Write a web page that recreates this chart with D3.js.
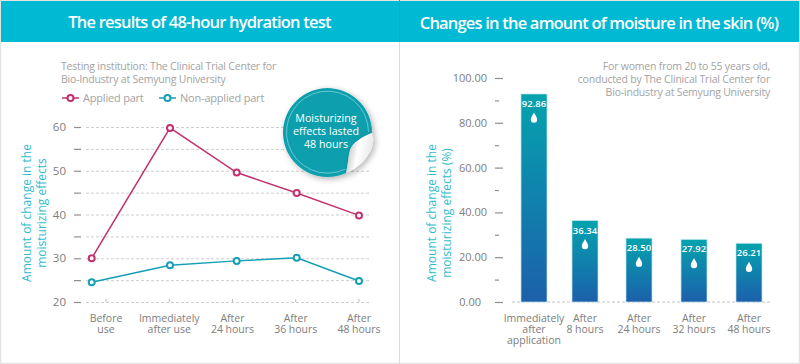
<!DOCTYPE html>
<html><head><meta charset="utf-8">
<script src="https://cdn.jsdelivr.net/npm/d3@7"></script>
<style>
html,body{margin:0;padding:0;background:#fff}
svg{display:block}
text{font-family:"Open Sans",sans-serif}
</style></head><body><svg id="c" width="800" height="364"></svg>
<script>
// ---- data ----
const lineCategories = [["Before","use"],["Immediately","after use"],["After","24 hours"],["After","36 hours"],["After","48 hours"]];
const appliedPart = [30, 59.8, 49.6, 44.9, 39.8];
const nonAppliedPart = [24.5, 28.4, 29.4, 30.1, 24.8];
const lineTicks = [20,25,30,35,40,45,50,55,60];
const barCategories = [["Immediately","after","application"],["After","8 hours"],["After","24 hours"],["After","32 hours"],["After","48 hours"]];
const barValues = [92.86, 36.34, 28.50, 27.92, 26.21];
const barTicks = [0,10,20,30,40,50,60,70,80,90,100];
const titles = ["The results of 48-hour hydration test","Changes in the amount of moisture in the skin (%)"];
const noteLeft = ["Testing institution: The Clinical Trial Center for","Bio-Industry at Semyung University"];
const noteRight = ["For women from 20 to 55 years old,","conducted by The Clinical Trial Center for","Bio-industry at Semyung University"];
const yTitleLeft = ["Amount of change in the","moisturizing effects"];
const yTitleRight = ["Amount of change in the","moisturizing effects (%)"];
const seriesNames = ["Applied part","Non-applied part"];
const badge = ["Moisturizing","effects lasted","48 hours"];

// ---- styles ----
const teal="#00b9d2", pink="#c1326f", cyan="#149fb5", gray="#a3a3a3", tick="#7d7d7d", ytitle="#2fbccd";
const svg=d3.select("#c");
const defs=svg.append("defs");
const gr=defs.append("linearGradient").attr("id","bar").attr("x1",0).attr("x2",0).attr("y1",0).attr("y2",1);
gr.append("stop").attr("offset",0).attr("stop-color","#04a3ae");
gr.append("stop").attr("offset",1).attr("stop-color","#1c60ab");
const peel=defs.append("linearGradient").attr("id","peel").attr("x1",0).attr("x2",1).attr("y1",0.3).attr("y2",0.6);
peel.append("stop").attr("offset",0).attr("stop-color","#b9b9b9");
peel.append("stop").attr("offset",0.45).attr("stop-color","#ffffff");
peel.append("stop").attr("offset",1).attr("stop-color","#e6e6e6");
const sh=defs.append("filter").attr("id","shadow").attr("x","-20%").attr("y","-20%").attr("width","150%").attr("height","150%");
sh.append("feDropShadow").attr("dx",2).attr("dy",2).attr("stdDeviation",3).attr("flood-color","#000").attr("flood-opacity",0.3);

// ---- frame ----
svg.append("rect").attr("x",0.5).attr("y",0.5).attr("width",799).attr("height",363).attr("fill","#fff").attr("stroke","#e4e4e4").attr("stroke-width",1.5);
svg.append("rect").attr("x",1).attr("y",1).attr("width",798).attr("height",41).attr("fill",teal);
svg.append("line").attr("x1",399.5).attr("x2",399.5).attr("y1",0).attr("y2",364).attr("stroke","#dcdcdc");
svg.append("line").attr("x1",399.5).attr("x2",399.5).attr("y1",0).attr("y2",42).attr("stroke","#11a9c0");
svg.selectAll("text.title").data(titles).join("text").attr("class","title")
  .attr("x",(d,i)=>i?599:199.5).attr("y",(d,i)=>i?28.5:28).attr("text-anchor","middle")
  .attr("fill","#fff").attr("font-size",16.5).attr("font-weight",600).attr("letter-spacing",-0.8).text(d=>d);

function lines(g,arr,x,y0,dy,anchor,fill,size,ls){
  g.append("text").attr("text-anchor",anchor).attr("fill",fill).attr("font-size",size).attr("letter-spacing",ls||0)
   .selectAll("tspan").data(arr).join("tspan").attr("x",x).attr("y",(d,i)=>y0+i*dy).text(d=>d);
}

// ---- left chart ----
const L=svg.append("g");
lines(L,noteLeft,61,70,13,"start",gray,10.5,-0.2);
const yL=d3.scaleLinear().domain([20,60]).range([302,127]);
const xTicksL=d3.scalePoint().domain(d3.range(5)).range([106,359]);
const xPtsL=d3.scaleOrdinal().domain(d3.range(5)).range([91.7,170,236.7,296.7,359]);
const gridL=L.append("g").attr("transform","translate(86,0)")
  .call(d3.axisRight(yL).tickValues(lineTicks).tickSize(285).tickFormat(""));
gridL.select(".domain").remove();
gridL.selectAll("line").attr("stroke","#cfcfcf").attr("stroke-dasharray","3 2");
const axL=L.append("g").attr("transform","translate(81,0)")
  .call(d3.axisLeft(yL).tickValues(lineTicks).tickSize(7).tickPadding(8).tickFormat(v=>v%10?"":v));
axL.select(".domain").remove();
axL.selectAll("line").attr("stroke","#8f8f8f").attr("stroke-width",1.2);
axL.selectAll("text").attr("fill",tick).attr("font-size",11.5).attr("font-family",'"Open Sans",sans-serif');
// small x ticks
L.append("g").selectAll("line").data(d3.range(5)).join("line")
  .attr("x1",i=>xTicksL(i)).attr("x2",i=>xTicksL(i)).attr("y1",299).attr("y2",302).attr("stroke","#bcbcbc");
lineCategories.forEach((c,i)=>lines(L,c,xTicksL(i),322,11,"middle",tick,10.5));
const lineGen=d3.line().x((d,i)=>xPtsL(i)).y(d=>yL(d));
[[nonAppliedPart,cyan],[appliedPart,pink]].forEach(([s,col])=>{
  L.append("path").attr("d",lineGen(s)).attr("fill","none").attr("stroke",col).attr("stroke-width",1.5);
  L.append("g").selectAll("circle").data(s).join("circle")
    .attr("cx",(d,i)=>xPtsL(i)).attr("cy",d=>yL(d)).attr("r",3).attr("fill","#fff").attr("stroke",col).attr("stroke-width",2);
});
// legend
[[62,pink],[159,cyan]].forEach(([x,col],i)=>{
  const g=L.append("g");
  g.append("line").attr("x1",x).attr("x2",x+17).attr("y1",98).attr("y2",98).attr("stroke",col).attr("stroke-width",1.5);
  g.append("circle").attr("cx",x+8.5).attr("cy",98).attr("r",3).attr("fill","#fff").attr("stroke",col).attr("stroke-width",2);
  g.append("text").attr("x",x+21).attr("y",102).attr("fill",gray).attr("font-size",11).attr("letter-spacing",-0.2).text(seriesNames[i]);
});
L.append("g").attr("transform","translate(31,213) rotate(-90)").call(g=>lines(g,yTitleLeft,0,0,15,"middle",ytitle,12));

// badge
const B=L.append("g");
const stickerPath="M372,133A44.5,44.5 0 1 0 346,173C348,165 348,158 350,150C352,143 362,137 372,133Z";
B.append("path").attr("d",stickerPath).attr("fill","#0a9fae").attr("filter","url(#shadow)");
B.append("path").attr("d","M368.5,132A41,41 0 1 0 345.5,169").attr("fill","none").attr("stroke","#7fd0d8").attr("stroke-width",0.8);
B.append("path").attr("d","M372,133C362,137 352,143 350,150C348,158 348,165 346,173C360,168 378,150 372,133Z")
  .attr("fill","url(#peel)").attr("filter","url(#shadow)");
lines(B,badge,326,122,13,"middle","#fff",10.7);

// ---- right chart ----
const R=svg.append("g");
lines(R,noteRight,770,70,13,"end",gray,10.5,-0.2);
const yR=d3.scaleLinear().domain([0,100]).range([302,78]);
const xR=d3.scaleOrdinal().domain(d3.range(5)).range([534,585,639,694,749]);
const barW=26;
const axR=R.append("g").attr("transform","translate(503,0)")
  .call(d3.axisLeft(yR).tickValues(barTicks).tickSize(8).tickPadding(8).tickFormat(v=>v%20?"":d3.format(".2f")(v)));
axR.select(".domain").remove();
axR.selectAll("line").attr("stroke","#8f8f8f").attr("stroke-width",1.2)
  .attr("x1",v=>v%20?-4:0).attr("x2",-8);
axR.selectAll("text").attr("fill",tick).attr("font-size",11).attr("font-family",'"Open Sans",sans-serif')
  .attr("x",v=>v===0?-22:-16);
R.append("line").attr("x1",512).attr("x2",772).attr("y1",yR(0)).attr("y2",yR(0)).attr("stroke","#c4c4c4").attr("stroke-dasharray","3 2");
R.append("g").selectAll("rect").data(barValues).join("rect")
  .attr("x",(d,i)=>xR(i)-barW/2).attr("y",d=>yR(d)).attr("width",barW).attr("height",d=>yR(0)-yR(d))
  .attr("fill","url(#bar)").attr("stroke","#bfe3ea").attr("stroke-width",0.7);
R.append("g").selectAll("text").data(barValues).join("text")
  .attr("x",(d,i)=>xR(i)).attr("y",d=>yR(d)+13).attr("text-anchor","middle").attr("fill","#fff")
  .attr("font-size",9.5).attr("font-weight",600).text(d=>d3.format(".2f")(d));
const drop="M0,-5.5C1,-3 3.2,-1 3.2,1.5A3.2,3.2 0 0 1 -3.2,1.5C-3.2,-1 -1,-3 0,-5.5Z";
R.append("g").selectAll("path").data(barValues).join("path")
  .attr("transform",(d,i)=>`translate(${xR(i)},${yR(d)+24})`).attr("d",drop).attr("fill","#fff");
barCategories.forEach((c,i)=>lines(R,c,xR(i),322,11,"middle",tick,10.5));
R.append("g").attr("transform","translate(436,213) rotate(-90)").call(g=>lines(g,yTitleRight,0,0,15,"middle",ytitle,12));
</script></body></html>
